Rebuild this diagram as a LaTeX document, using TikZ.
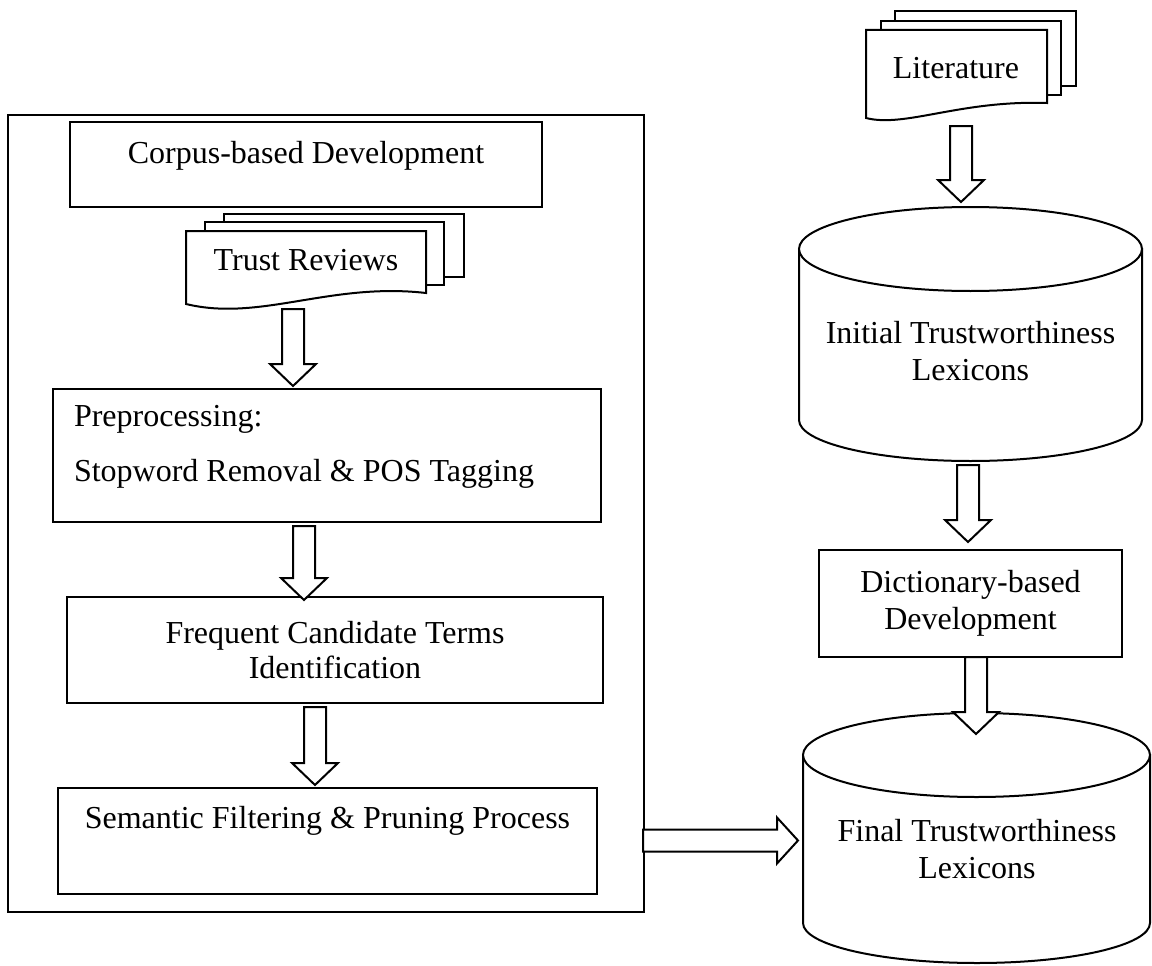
\documentclass[tikz,border=0pt]{standalone}
\usepackage{fontspec}
\setmainfont{Liberation Serif}
\usetikzlibrary{calc}
\tikzset{
  txt/.style={font=\fontsize{32}{37}\selectfont, inner sep=0pt, align=center},
  box/.style={txt, draw, line width=2pt},
  doc/.style={draw, fill=white, line width=2pt, line join=miter},
  cyl/.style={draw, fill=white, line width=2pt},
  blk/.style={draw, fill=white, line width=2pt, line join=miter},
  downblock/.style={to path={let \p1=(\tikztostart), \p2=(\tikztotarget) in
    (\x1-11pt,\y1) -- (\x1+11pt,\y1) -- (\x1+11pt,\y2+22pt) -- (\x1+23pt,\y2+22pt)
    -- (\x1,\y2) -- (\x1-23pt,\y2+22pt) -- (\x1-11pt,\y2+22pt) -- cycle}},
  rightblock/.style={to path={let \p1=(\tikztostart), \p2=(\tikztotarget) in
    (\x1,\y1+11pt) -- (\x2-21pt,\y1+11pt) -- (\x2-21pt,\y1+23pt) -- (\x2,\y1)
    -- (\x2-21pt,\y1-23pt) -- (\x2-21pt,\y1-11pt) -- (\x1,\y1-11pt) -- cycle}}
}
\begin{document}
\begin{tikzpicture}[x=1pt,y=-1pt]
\useasboundingbox (0,0) rectangle (1152,966);

% left panel
\node[draw, line width=2.4pt, inner sep=0pt, minimum width=636pt, minimum height=797pt] (outer) at (326,513.5) {};

\node[box, minimum width=472pt, minimum height=85pt] (corpus) at (306,164.5)
  {Corpus-based Development\rule[-25pt]{0pt}{25pt}};

% Trust Reviews documents
\filldraw[doc] (224,214) rectangle (464,277);
\filldraw[doc] (205,222) rectangle (444,285);
\filldraw[doc] (186,231) -- (426,231) -- (426,293) .. controls (330,282) and (260,322) .. (186,304) -- cycle;
\node[txt] (trust) at (306,260) {Trust Reviews};

\node[box, align=flush left, text width=506pt, inner xsep=21pt, minimum height=133pt] (pre) at (327,455.5)
  {Preprocessing:\\[18pt]Stopword Removal \& POS Tagging\rule[-24pt]{0pt}{24pt}};

\node[box, minimum width=536pt, minimum height=106pt] (freq) at (335,650)
  {Frequent Candidate Terms\\[-2pt]Identification};

\node[box, minimum width=539pt, minimum height=106pt] (sem) at (327.5,841)
  {Semantic Filtering \& Pruning Process\rule[-48pt]{0pt}{48pt}};

% Literature documents
\filldraw[doc] (895,11) rectangle (1076,86);
\filldraw[doc] (881,21) rectangle (1061,95);
\filldraw[doc] (866,30) -- (1047,30) -- (1047,103) .. controls (960,100) and (905,128) .. (866,118) -- cycle;
\node[txt] (lit) at (956,68) {Literature};

% Initial cylinder
\filldraw[cyl] (799,249) -- (799,420) .. controls (799,442.6) and (875.8,461) .. (970.5,461)
  .. controls (1065.2,461) and (1142,442.6) .. (1142,420) -- (1142,249) -- cycle;
\filldraw[cyl] (970.5,249) ellipse [x radius=171.5pt, y radius=42pt];
\node[txt] (init) at (970.5,351) {Initial Trustworthiness\\Lexicons};

\node[box, minimum width=303pt, minimum height=107pt] (dict) at (970.5,603.5)
  {Dictionary-based\\Development};

% Final cylinder
\filldraw[cyl] (803,755) -- (803,923) .. controls (803,945.1) and (880.9,963) .. (977,963)
  .. controls (1073.1,963) and (1150,945.1) .. (1150,923) -- (1150,755) -- cycle;
\filldraw[cyl] (976.5,755) ellipse [x radius=173.5pt, y radius=42pt];
\node[txt] (final) at (977,849) {Final Trustworthiness\\Lexicons};

% arrow end points
\coordinate (a1s) at (293,309);   \coordinate (a1e) at (293,386);
\coordinate (a2s) at (304,526);   \coordinate (a2e) at (304,600);
\coordinate (a3s) at (315,707);   \coordinate (a3e) at (315,785);
\coordinate (a4s) at (961,126);   \coordinate (a4e) at (961,202);
\coordinate (a5s) at (968,465);   \coordinate (a5e) at (968,542);
\coordinate (a6s) at (976,657);   \coordinate (a6e) at (976,734);
\coordinate (hs)  at (643,840.5); \coordinate (he)  at (798,840.5);

\draw[blk] (a1s) to[downblock] (a1e);
\draw[blk] (a2s) to[downblock] (a2e);
\draw[blk] (a3s) to[downblock] (a3e);
\draw[blk] (a4s) to[downblock] (a4e);
\draw[blk] (a5s) to[downblock] (a5e);
\draw[blk] (a6s) to[downblock] (a6e);
\draw[blk] (hs) to[rightblock] (he);
\end{tikzpicture}
\end{document}
